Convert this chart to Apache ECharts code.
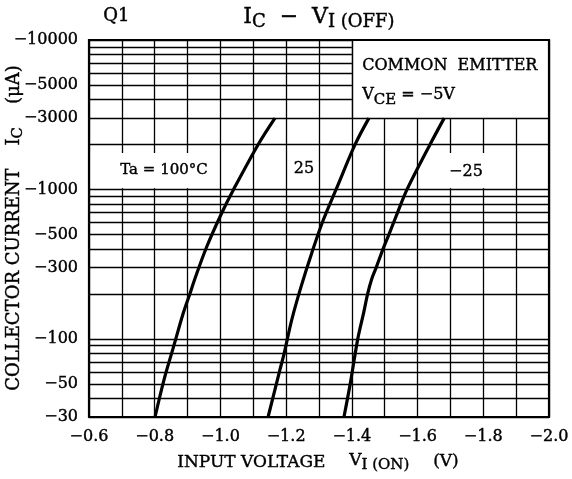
<!DOCTYPE html>
<html><head><meta charset="utf-8">
<script src="https://cdn.jsdelivr.net/npm/echarts@6/dist/echarts.min.js"></script>
<style>html,body{margin:0;padding:0;background:#fff}#c{width:572px;height:479px}</style>
</head><body><div id="c"></div>
<script>
// ---- data ----
const xTickLabels = [-0.6, -0.8, -1.0, -1.2, -1.4, -1.6, -1.8, -2.0];
const yTickLabels = [-30, -50, -100, -300, -500, -1000, -3000, -5000, -10000];
const yGridValues = [-30, -40, -50, -60, -70, -80, -90, -100, -200, -300, -400, -500, -600, -700, -800, -900,
                     -1000, -2000, -3000, -4000, -5000, -6000, -7000, -8000, -9000, -10000];
const ta100Voltage = [-0.801, -0.828, -0.857, -0.887, -0.908, -0.921, -0.958, -1.004, -1.040, -1.115, -1.166];
const ta100Current = [-30, -53, -88, -149, -203, -248, -412, -696, -1000, -2000, -3000];
const ta25Voltage  = [-1.145, -1.181, -1.194, -1.217, -1.245, -1.278, -1.313, -1.352, -1.410, -1.452];
const ta25Current  = [-30, -62, -80, -134, -222, -376, -624, -1000, -2000, -3000];
const taM25Voltage = [-1.376, -1.395, -1.418, -1.436, -1.448, -1.460, -1.474, -1.495, -1.513, -1.539, -1.568, -1.638, -1.681];
const taM25Current = [-30, -50, -100, -150, -200, -250, -300, -400, -500, -700, -1000, -2000, -3000];

const MINUS = '\u2212';
const FONT = 'DejaVu Serif';
const BOLDEN = { textBorderColor: '#000', textBorderWidth: 0.4 };
const mag = v => Math.abs(v);
const pairs = (xs, ys) => xs.map((x, i) => [x, mag(ys[i])]);

const xMin = Math.min(...xTickLabels), xMax = Math.max(...xTickLabels);
const yMin = mag(yTickLabels[0]), yMax = mag(yTickLabels[yTickLabels.length - 1]);
const boxX = -1.4, boxY = 3000; // top-right annotation box corner (data units)
const labelSet = new Set(yTickLabels.map(mag));

const hLines = yGridValues.map(v => {
  const y = mag(v);
  const xEnd = y > boxY ? boxX : xMin;
  const item = [{ coord: [xMax, y] }, { coord: [xEnd, y] }];
  if (labelSet.has(y)) {
    item[0].label = Object.assign({
      show: true, position: 'start', distance: 11, formatter: MINUS + y,
      color: '#000', fontFamily: FONT, fontSize: 16
    }, BOLDEN);
  }
  return item;
});
hLines.push([{ coord: [boxX, boxY] }, { coord: [boxX, yMax] }]);

const curveStyle = { color: '#000', width: 3.2 };
const T = (o) => Object.assign({ type: 'text', z: 100 }, o);
const st = (text, size, extra) => Object.assign({ text, fontFamily: FONT, fontSize: size, fill: '#000', stroke: '#000', lineWidth: 0.4 }, extra || {});
const subStyle = (size, pad) => ({ fontFamily: FONT, fontSize: size, padding: [pad, 0, 0, 0], fill: '#000', stroke: '#000', lineWidth: 0.4 });

const chart = echarts.init(document.getElementById('c'), null, { renderer: 'canvas' });
chart.setOption({
  animation: false,
  backgroundColor: '#fff',
  textStyle: { fontFamily: FONT, fontSize: 16, color: '#000' },
  grid: { left: 89, right: 23, top: 40, bottom: 62, show: false },
  xAxis: {
    type: 'value', min: xMin, max: xMax, interval: 0.1, inverse: true,
    axisLine: { show: false }, axisTick: { show: false },
    splitLine: { show: true, lineStyle: { color: '#000', width: 1.3 } },
    axisLabel: Object.assign({
      margin: 12, color: '#000', fontFamily: FONT, fontSize: 16,
      formatter: v => (Math.round(Math.abs(v) * 10) % 2 === 0) ? MINUS + Math.abs(v).toFixed(1) : ''
    }, BOLDEN)
  },
  yAxis: {
    type: 'log', logBase: 10, min: yMin, max: yMax,
    axisLine: { show: false }, axisTick: { show: false }, splitLine: { show: false },
    axisLabel: { show: false }
  },
  series: [
    { // white label boxes
      type: 'line', data: [], silent: true, z: 1,
      markArea: {
        silent: true, itemStyle: { color: '#fff', borderWidth: 0 },
        data: [
          [{ coord: [-0.605, 1020] }, { coord: [-0.995, 1750] }],
          [{ coord: [-1.605, 1020] }, { coord: [-1.895, 1750] }],
          [{ coord: [-1.405, boxY] }, { coord: [xMin, yMax] }]
        ]
      }
    },
    { // horizontal grid lines + y tick labels
      type: 'line', data: [], silent: true, z: 2,
      markLine: { silent: true, symbol: 'none', label: { show: false },
        lineStyle: { color: '#000', width: 1.3, type: 'solid' }, data: hLines }
    },
    { type: 'line', z: 3, data: pairs(ta100Voltage, ta100Current), smooth: 0.35, symbol: 'none', lineStyle: curveStyle },
    { type: 'line', z: 3, data: pairs(ta25Voltage, ta25Current), smooth: 0.35, symbol: 'none', lineStyle: curveStyle },
    { type: 'line', z: 3, data: pairs(taM25Voltage, taM25Current), smooth: 0.3, symbol: 'none', lineStyle: curveStyle },
    { // plot frame
      type: 'line', data: [], silent: true, z: 4,
      markArea: { silent: true, itemStyle: { color: 'rgba(0,0,0,0)', borderColor: '#000', borderWidth: 2.2 },
        data: [[{ coord: [xMax, yMin] }, { coord: [xMin, yMax] }]] }
    }
  ],
  graphic: [
    T({ left: 103, top: 7, style: st('Q1', 18) }),
    T({ left: 243, top: 6, style: st('I{s|C}  ' + MINUS + '  V{s|I (OFF)}', 22, { rich: { s: subStyle(18, 10) } }) }),
    T({ left: 362, top: 58, style: st('COMMON  EMITTER', 16) }),
    T({ left: 362, top: 87, style: st('V{s|CE} = ' + MINUS + '5V', 16, { rich: { s: subStyle(15, 9) } }) }),
    T({ x: 164, y: 170, style: st('Ta = 100°C', 15, { align: 'center', verticalAlign: 'middle' }) }),
    T({ x: 304, y: 169, style: st('25', 16, { align: 'center', verticalAlign: 'middle' }) }),
    T({ x: 466, y: 172, style: st(MINUS + '25', 16, { align: 'center', verticalAlign: 'middle' }) }),
    T({ left: 177, top: 454, style: st('INPUT VOLTAGE', 17) }),
    T({ left: 349, top: 452, style: st('V{s|I (ON)}', 17, { rich: { s: subStyle(15, 9) } }) }),
    T({ left: 433, top: 453, style: st('(V)', 17) }),
    T({ x: 14, y: 228, rotation: Math.PI / 2, style: st('COLLECTOR CURRENT    I{r|C}    (μA)', 18, {
        align: 'center', verticalAlign: 'middle', rich: { r: subStyle(15, 8) } }) })
  ]
});
</script></body></html>
